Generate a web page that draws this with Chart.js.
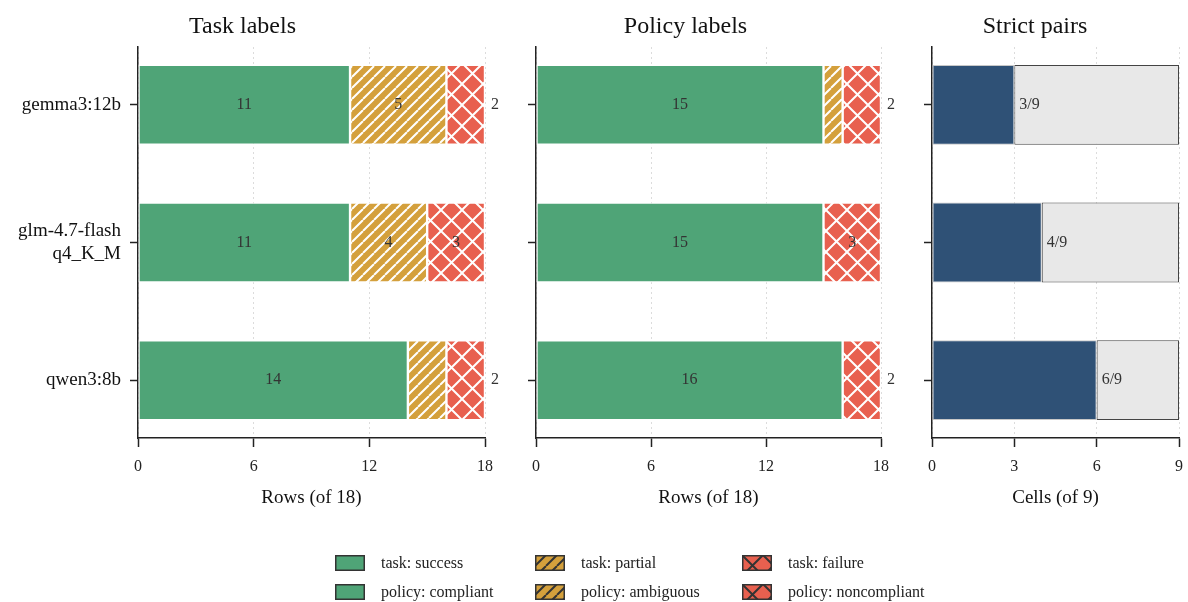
<!DOCTYPE html>
<html>
<head>
<meta charset="utf-8">
<script src="https://cdn.jsdelivr.net/npm/chart.js@4.4.1/dist/chart.umd.min.js"></script>
<style>
  body { margin: 0; background: #fff; font-family: "Liberation Serif", serif; overflow: hidden; }
  .panel { position: absolute; top: 0; height: 518px; }
  #legend { position: absolute; left: 0; top: 0; width: 1188px; height: 602px; pointer-events: none; }
  .item { position: absolute; height: 20px; display: flex; align-items: center; font-size: 16px; color: #222; }
  .item canvas { margin-right: 16px; }
</style>
</head>
<body>
<div class="panel" style="left:0;width:510px"><canvas id="taskChart"></canvas></div>
<div class="panel" style="left:490px;width:415px"><canvas id="policyChart"></canvas></div>
<div class="panel" style="left:886px;width:307px"><canvas id="strictChart"></canvas></div>
<div id="legend"></div>
<script>
// data
const models = ['gemma3:12b', ['glm-4.7-flash', 'q4_K_M'], 'qwen3:8b'];
const taskSuccess = [11, 11, 14];
const taskPartial = [5, 4, 2];
const taskFailure = [2, 3, 2];
const policyCompliant = [15, 15, 16];
const policyAmbiguous = [1, 0, 0];
const policyNoncompliant = [2, 3, 2];
const strictPairs = [3, 4, 6];
const strictTotal = 9;
const rowsTotal = 18;

const GREEN = '#4fa477', GOLD = '#d4a03c', RED = '#e8604f', NAVY = '#2f5176', GREY = '#e8e8e8';
const FONT = '"Liberation Serif", serif';

// hatch fills
function hatch(bg, line, kind, size) {
    const c = document.createElement('canvas');
    c.width = size; c.height = size;
    const g = c.getContext('2d');
    g.fillStyle = bg;
    g.fillRect(0, 0, size, size);
    g.strokeStyle = line;
    g.lineWidth = 2;
    g.beginPath();
    for (const o of [-size, 0, size]) {
        g.moveTo(o, size); g.lineTo(o + size, 0);
        if (kind === 'x') { g.moveTo(o, 0); g.lineTo(o + size, size); }
    }
    g.stroke();
    return g.createPattern(c, 'repeat');
}
const partialFill = hatch(GOLD, '#fff', '/', 11);
const failureFill = hatch(RED, '#fff', 'x', 21);

function pts(arr) { return arr.map((v, i) => ({ x: v, y: i })); }

// value labels on the bars
const barLabels = {
    id: 'barLabels',
    afterDatasetsDraw(chart, args, opts) {
        const ctx = chart.ctx;
        ctx.save();
        ctx.font = '16px ' + FONT;
        ctx.fillStyle = '#333';
        ctx.textBaseline = 'middle';
        const n = chart.data.datasets.length;
        chart.data.datasets.forEach((ds, di) => {
            chart.getDatasetMeta(di).data.forEach((bar, i) => {
                const v = ds.data[i].x;
                if (opts.strict) {
                    if (di !== 0) return;
                    ctx.textAlign = 'left';
                    ctx.fillText(v + '/' + strictTotal, bar.x + 5, bar.y);
                    return;
                }
                if (v >= 3) {
                    ctx.textAlign = 'center';
                    ctx.fillText(String(v), (bar.x + bar.base) / 2, bar.y);
                } else if (v > 0 && di === n - 1) {
                    ctx.textAlign = 'left';
                    ctx.fillText(String(v), bar.x + 6, bar.y);
                }
            });
        });
        ctx.restore();
    }
};

function makeChart(id, datasets, opt) {
    return new Chart(document.getElementById(id), {
        type: 'bar',
        data: { datasets: datasets },
        plugins: [barLabels],
        options: {
            indexAxis: 'y',
            responsive: true,
            maintainAspectRatio: false,
            animation: false,
            layout: { padding: { left: 0, right: opt.padRight, top: 0, bottom: 0 } },
            datasets: { bar: { barPercentage: 0.58, categoryPercentage: 1.0, borderSkipped: false } },
            plugins: {
                legend: { display: false },
                tooltip: { enabled: false },
                title: { display: true, text: opt.title, color: '#111', font: { family: FONT, size: 24, weight: 'normal' }, padding: { top: 12, bottom: 6.2 } },
                barLabels: { strict: !!opt.strict }
            },
            scales: {
                x: {
                    type: 'linear', stacked: true, min: 0, max: opt.max,
                    afterFit: s => { s.height = 80; },
                    ticks: { stepSize: opt.step, padding: 10, color: '#222', font: { family: FONT, size: 16 } },
                    grid: { color: '#dcdcdc', lineWidth: 1, drawOnChartArea: true, drawTicks: true, tickLength: 9, tickColor: '#222', tickWidth: 1.5, tickBorderDash: [] },
                    border: { display: true, color: '#222', width: 1.5, dash: [2, 3] },
                    title: { display: true, text: opt.xTitle, color: '#111', font: { family: FONT, size: 19 }, padding: { top: 0, bottom: 9 } }
                },
                y: {
                    type: 'linear', stacked: true, reverse: true, min: -0.42, max: 2.42, offset: false,
                    afterFit: s => { s.width = opt.yWidth; },
                    afterBuildTicks: s => { s.ticks = [0, 1, 2].map(v => ({ value: v })); },
                    ticks: { autoSkip: false, padding: 9, color: '#111', font: { family: FONT, size: 19 },
                             callback: v => opt.showLabels ? models[v] : '' },
                    grid: { offset: false, drawOnChartArea: false, drawTicks: true, tickLength: 8, tickColor: '#222', tickWidth: 1.5 },
                    border: { display: true, color: '#222', width: 1.5 }
                }
            }
        }
    });
}

const edge = { borderColor: 'rgba(255,255,255,0.9)', borderWidth: 1.2 };

makeChart('taskChart', [
    { label: 'task: success', data: pts(taskSuccess), backgroundColor: GREEN, ...edge },
    { label: 'task: partial', data: pts(taskPartial), backgroundColor: partialFill, ...edge },
    { label: 'task: failure', data: pts(taskFailure), backgroundColor: failureFill, ...edge }
], { title: 'Task labels', xTitle: 'Rows (of 18)', max: rowsTotal, step: 6, yWidth: 138, padRight: 25, showLabels: true });

makeChart('policyChart', [
    { label: 'policy: compliant', data: pts(policyCompliant), backgroundColor: GREEN, ...edge },
    { label: 'policy: ambiguous', data: pts(policyAmbiguous), backgroundColor: partialFill, ...edge },
    { label: 'policy: noncompliant', data: pts(policyNoncompliant), backgroundColor: failureFill, ...edge }
], { title: 'Policy labels', xTitle: 'Rows (of 18)', max: rowsTotal, step: 6, yWidth: 46, padRight: 24, showLabels: false });

makeChart('strictChart', [
    { label: 'strict', data: pts(strictPairs), backgroundColor: NAVY, borderColor: '#c8c8c8', borderWidth: 1 },
    { label: 'rest', data: pts(strictPairs.map(v => strictTotal - v)), backgroundColor: GREY, borderColor: '#444', borderWidth: 1 }
], { title: 'Strict pairs', xTitle: 'Cells (of 9)', max: strictTotal, step: 3, yWidth: 46, padRight: 9, showLabels: false, strict: true });

// legend
const legendItems = [
    ['task: success', GREEN, null], ['policy: compliant', GREEN, null],
    ['task: partial', GOLD, '/'], ['policy: ambiguous', GOLD, '/'],
    ['task: failure', RED, 'x'], ['policy: noncompliant', RED, 'x']
];
const colX = [335, 535, 742];
const rowY = [563, 592];
const legend = document.getElementById('legend');
legendItems.forEach((it, k) => {
    const div = document.createElement('div');
    div.className = 'item';
    div.style.left = colX[Math.floor(k / 2)] + 'px';
    div.style.top = (rowY[k % 2] - 10) + 'px';
    const sw = document.createElement('canvas');
    sw.width = 30; sw.height = 16;
    const g = sw.getContext('2d');
    g.fillStyle = it[2] ? hatch(it[1], '#333', it[2], it[2] === 'x' ? 21 : 11) : it[1];
    g.fillRect(0, 0, 30, 16);
    g.strokeStyle = '#333';
    g.lineWidth = 1.5;
    g.strokeRect(0.75, 0.75, 28.5, 14.5);
    div.appendChild(sw);
    div.appendChild(document.createTextNode(it[0]));
    legend.appendChild(div);
});
</script>
</body>
</html>
